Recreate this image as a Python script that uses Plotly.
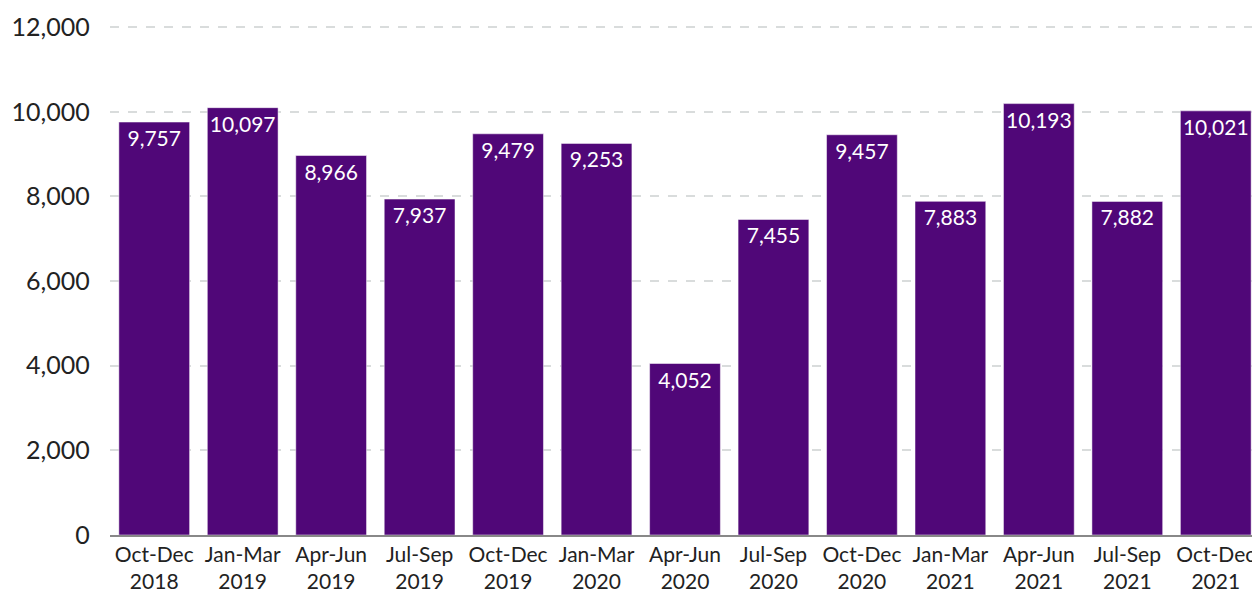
import plotly.graph_objects as go

quarters = ["Oct-Dec", "Jan-Mar", "Apr-Jun", "Jul-Sep", "Oct-Dec", "Jan-Mar", "Apr-Jun",
            "Jul-Sep", "Oct-Dec", "Jan-Mar", "Apr-Jun", "Jul-Sep", "Oct-Dec"]
years = ["2018", "2019", "2019", "2019", "2019", "2020", "2020",
         "2020", "2020", "2021", "2021", "2021", "2021"]
counts = [9757, 10097, 8966, 7937, 9479, 9253, 4052, 7455, 9457, 7883, 10193, 7882, 10021]

labels = [f"{q}<br>{y}" for q, y in zip(quarters, years)]

fig = go.Figure()
fig.add_trace(go.Bar(
    x=labels,
    y=counts,
    marker_color="#500778",
    text=[f"{v:,}" for v in counts],
    textposition="inside",
    insidetextanchor="end",
    textangle=0,
    textfont=dict(color="white", size=21),
))

# page body has an 8px margin, so the figure is shrunk and margins shifted
fig.update_layout(
    template="plotly_white",
    width=1252,
    height=589,
    font=dict(family="Lato, sans-serif", color="#222222"),
    paper_bgcolor="white",
    plot_bgcolor="white",
    margin=dict(l=102, r=0, t=17, b=62),
    bargap=0.2,
    showlegend=False,
    uniformtext=dict(minsize=21, mode="show"),
    xaxis=dict(
        showgrid=False,
        showline=True,
        linecolor="#888888",
        linewidth=1.5,
        tickfont=dict(size=21, color="#222222"),
        ticks="",
    ),
    yaxis=dict(
        range=[0, 12050],
        dtick=2000,
        tickformat=",",
        showgrid=True,
        gridcolor="#d9dcdc",
        griddash="dash",
        gridwidth=2,
        zeroline=False,
        tickfont=dict(size=25, color="#222222"),
        ticksuffix="   ",
    ),
)

fig.write_html("out.html")
